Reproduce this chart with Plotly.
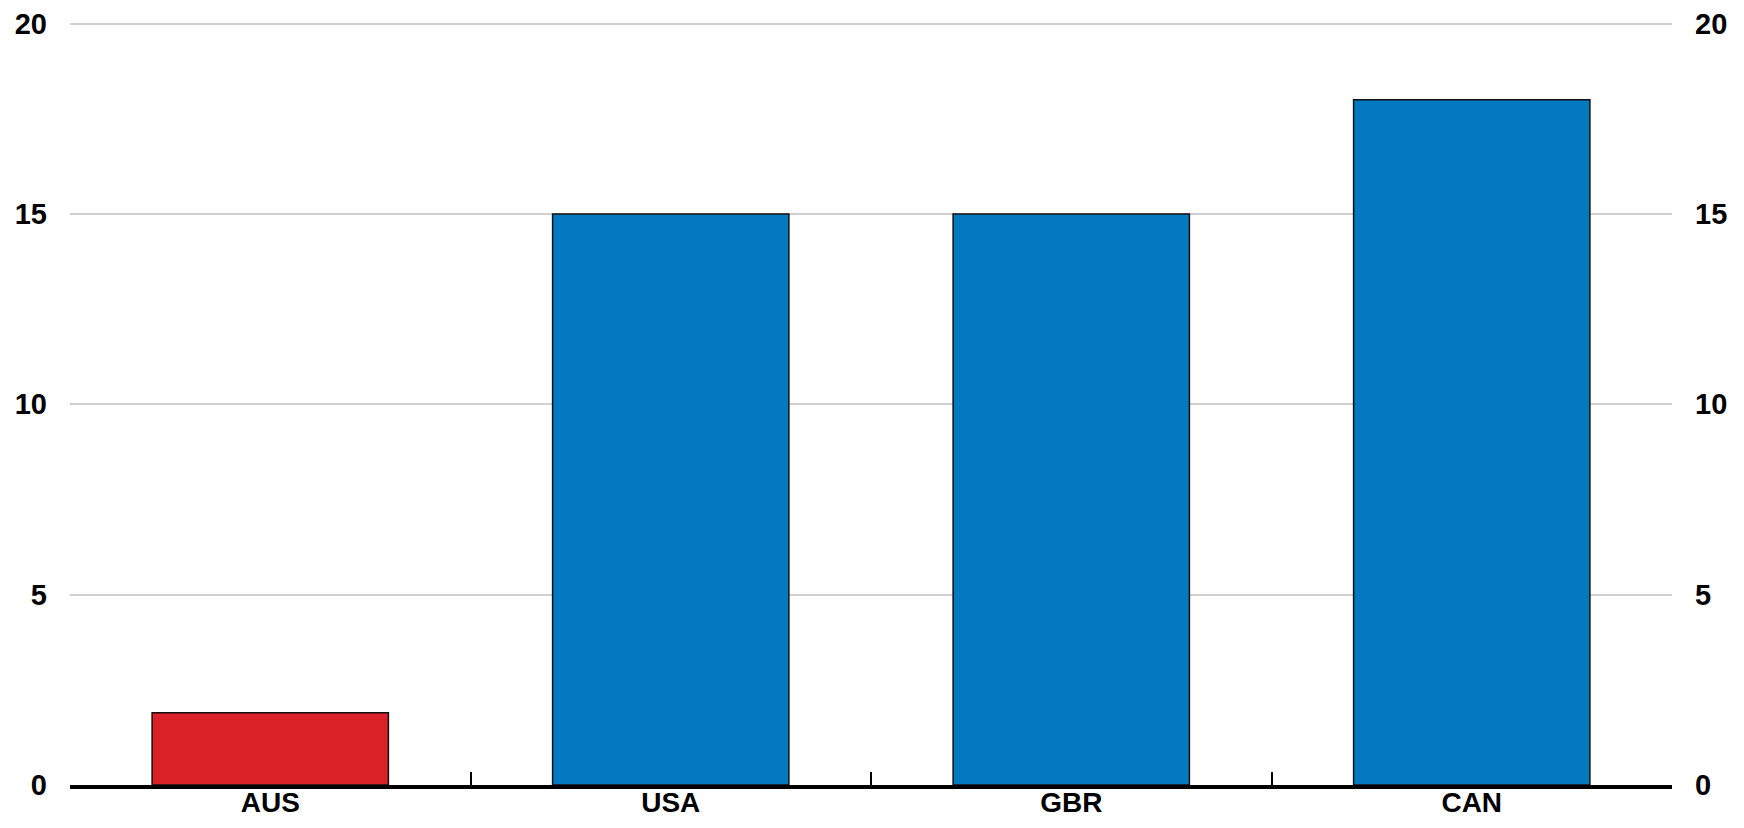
import plotly.graph_objects as go

countries = ["AUS", "USA", "GBR", "CAN"]
values = [1.9, 15.0, 15.0, 18.0]
colors = ["#DA2128", "#037AC0", "#037AC0", "#037AC0"]
y_ticks = [0, 5, 10, 15, 20]
y_range = [0, 20.04]

font_family = "Liberation Sans Narrow, Arial Narrow, Liberation Sans, Arial, sans-serif"
tick_font = dict(size=29, family=font_family, color="black", weight="bold")
x_tick_font = dict(size=28, family=font_family, color="black", weight="bold")

fig = go.Figure()
fig.add_trace(go.Bar(
    x=countries, y=values,
    marker=dict(color=colors, line=dict(color="#111111", width=1.5)),
    showlegend=False, hoverinfo="x+y",
))
fig.add_trace(go.Scatter(
    x=countries, y=values, yaxis="y2", mode="markers",
    marker=dict(opacity=0), showlegend=False, hoverinfo="skip",
))

fig.update_layout(
    width=1728, height=812,
    margin=dict(l=62, r=64, t=14, b=35),
    paper_bgcolor="white", plot_bgcolor="white",
    bargap=0.41,
    font=dict(family=font_family, size=28, color="black"),
    xaxis=dict(
        type="category", tickson="boundaries", ticks="inside",
        ticklen=13, tickwidth=2, tickcolor="black",
        showline=True, linecolor="black", linewidth=4,
        showgrid=False, tickfont=x_tick_font,
        ticklabelstandoff=-11, automargin=False,
    ),
    yaxis=dict(
        range=y_range, tickvals=y_ticks, showgrid=True,
        gridcolor="#D0D0D0", gridwidth=2, zeroline=False,
        ticks="", tickfont=tick_font, ticklabeloverflow="allow",
        ticklabelstandoff=22, automargin=False,
    ),
    yaxis2=dict(
        range=y_range, tickvals=y_ticks, overlaying="y", side="right",
        showgrid=False, zeroline=False, ticks="",
        tickfont=tick_font, ticklabeloverflow="allow",
        ticklabelstandoff=22, automargin=False,
    ),
)

fig.write_html("out.html")
